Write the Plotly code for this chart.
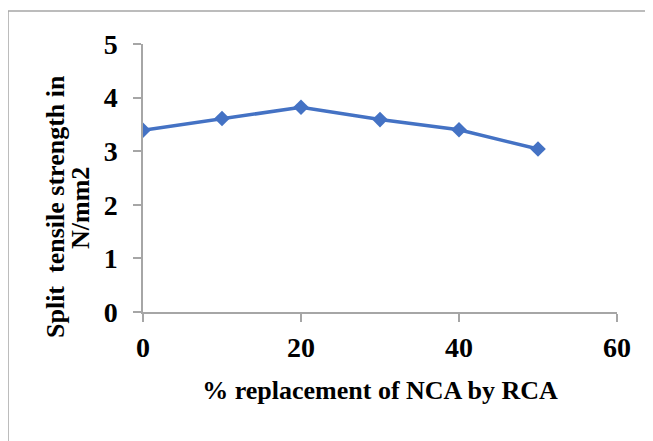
import plotly.graph_objects as go

replacement_pct = [0, 10, 20, 30, 40, 50]
split_tensile = [3.39, 3.61, 3.82, 3.59, 3.40, 3.04]
x_ticks = [0, 20, 40, 60]
y_ticks = [0, 1, 2, 3, 4, 5]

FONT = "Liberation Serif"
OFF = 8  # page body margin
W, H = 645, 433
L, T = 143 - OFF, 44 - OFF
R = W + OFF - 617
B = H + OFF - 312
pw, ph = W - L - R, H - T - B

def px_x(x):
    return (x - OFF - L) / pw

def px_y(y):
    return (H - B - (y - OFF)) / ph

fig = go.Figure()
fig.add_trace(go.Scatter(
    x=replacement_pct, y=split_tensile, mode="lines+markers",
    line=dict(color="#4472C4", width=3.5),
    marker=dict(symbol="diamond", size=12, color="#4472C4"),
    showlegend=False, hoverinfo="x+y",
))

axis_common = dict(
    showgrid=False, zeroline=False, showline=True, linecolor="#a6a6a6", linewidth=1.5,
    ticks="outside", ticklen=8, tickcolor="#a6a6a6", tickwidth=1.5,
    tickfont=dict(family=FONT, size=28, color="black", weight="bold"),
)

title_font = dict(family=FONT, size=26, color="black", weight="bold")

fig.update_layout(
    width=W, height=H,
    margin=dict(l=L, r=R, t=T, b=B, pad=0),
    paper_bgcolor="white", plot_bgcolor="white",
    xaxis=dict(range=[0, 60], tickvals=x_ticks, ticklabelstandoff=2,
               title=dict(text="% replacement of NCA by RCA", font=title_font, standoff=18),
               **axis_common),
    yaxis=dict(range=[0, 5], tickvals=y_ticks, ticklabelstandoff=10,
               **axis_common),
    annotations=[
        dict(text="Split  tensile strength in", textangle=-90,
             xref="paper", yref="paper", x=px_x(56), y=px_y(207),
             xanchor="center", yanchor="middle", showarrow=False, font=title_font),
        dict(text="N/mm2", textangle=-90,
             xref="paper", yref="paper", x=px_x(80), y=px_y(208),
             xanchor="center", yanchor="middle", showarrow=False, font=title_font),
    ],
    shapes=[dict(type="rect", xref="paper", yref="paper",
                 x0=px_x(8), x1=px_x(720), y0=px_y(520), y1=px_y(11),
                 line=dict(color="#a6a6a6", width=1.5), layer="below")],
)

fig.write_html("out.html")
